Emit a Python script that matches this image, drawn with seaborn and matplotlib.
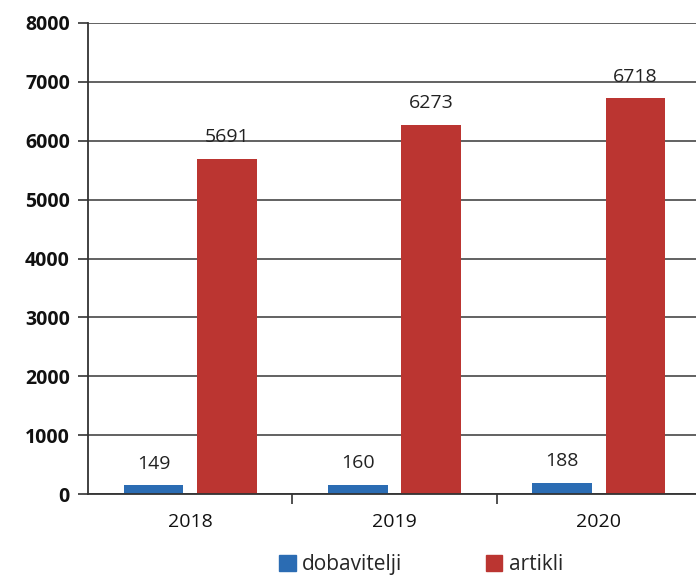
import matplotlib
matplotlib.use("Agg")
import matplotlib.pyplot as plt
import pandas as pd
import seaborn as sns

years = ["2018", "2019", "2020"]
dobavitelji = [149, 160, 188]
artikli = [5691, 6273, 6718]
series_names = ["dobavitelji", "artikli"]
colors = ["#2b6cb3", "#bb3531"]

df = pd.DataFrame({
    "godina": years * 2,
    "vrijednost": dobavitelji + artikli,
    "serija": [series_names[0]] * len(years) + [series_names[1]] * len(years),
})

sns.set_theme(style="white")
plt.rcParams["font.family"] = ["Open Sans", "DejaVu Sans"]

fig = plt.figure(figsize=(6.96, 5.81), dpi=100)
ax = fig.add_axes([88 / 696, 1 - 494 / 581, 613 / 696, 471 / 581])

sns.barplot(
    data=df, x="godina", y="vrijednost", hue="serija",
    palette=colors, saturation=1, linewidth=0,
    width=0.72, gap=0.19, ax=ax, legend=False,
)

for cont in ax.containers:
    ax.bar_label(cont, padding=9, fontsize=14, color="#222222")

ax.set_ylim(0, 8000)
ax.set_xlim(-0.5, 2.5)
ax.set_yticks(range(0, 8001, 1000))
ax.yaxis.grid(True, color="#555555", linewidth=1.3)
ax.set_axisbelow(True)
ax.set_xlabel("")
ax.set_ylabel("")

ax.tick_params(axis="y", length=7, width=1.2, color="#333333", labelsize=14, pad=6,
               labelcolor="#111111", direction="out", left=True)
for lab in ax.get_yticklabels():
    lab.set_fontweight("bold")
ax.tick_params(axis="x", which="major", length=0, labelsize=14, pad=14, labelcolor="#111111")
ax.set_xticks([0.5, 1.5], minor=True)
ax.tick_params(axis="x", which="minor", length=7, width=1.2, color="#333333", direction="out", bottom=True)

for side in ["top", "right"]:
    ax.spines[side].set_visible(False)
for side in ["left", "bottom"]:
    ax.spines[side].set_color("#333333")
    ax.spines[side].set_linewidth(1.3)

handles = [plt.Rectangle((0, 0), 1, 1, color=c) for c in colors]
fig.legend(handles, series_names, loc="center", bbox_to_anchor=(0.605, 0.028), ncol=2,
           frameon=False, fontsize=15, handlelength=0.8, handleheight=0.8,
           handletextpad=0.3, columnspacing=4.0, borderaxespad=0, borderpad=0.1)

fig.savefig("out.png", dpi=100)
